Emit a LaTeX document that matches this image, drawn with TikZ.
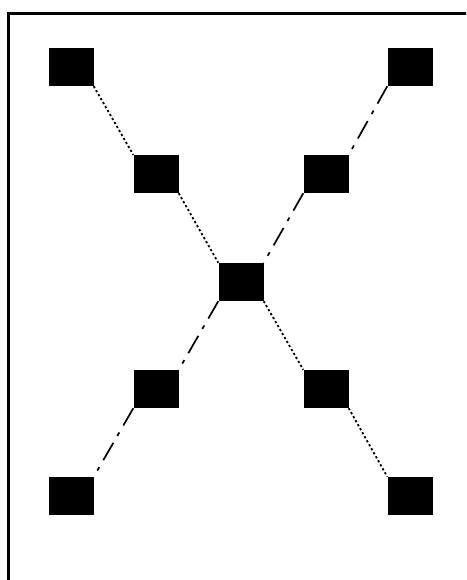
\documentclass[tikz,border=0pt]{standalone}
\usetikzlibrary{positioning}

\begin{document}
\begin{tikzpicture}[
    x=1pt, y=-1pt,
    blk/.style={draw=none, fill=black, minimum width=45pt, minimum height=38pt, inner sep=0pt},
    dotline/.style={line width=1.8pt, dash pattern=on 2.2pt off 2.4pt},
    dashdotline/.style={line width=1.7pt, dash pattern=on 20pt off 8pt on 4pt off 8pt}
  ]
    \useasboundingbox (0,0) rectangle (466,580);
    \clip (0,0) rectangle (466,580);
    \draw[line width=3pt] (8.5,13.5) rectangle (520,640);

    \node[blk] (tl) at (71,67) {};
    \node[blk] (tr) at (410,67) {};
    \node[blk] (tlin) at (156,174) {};
    \node[blk] (trin) at (326,174) {};
    \node[blk] (mid) at (241,282) {};
    \node[blk] (blin) at (156,389) {};
    \node[blk] (brin) at (326,389) {};
    \node[blk] (bl) at (71,496) {};
    \node[blk] (br) at (410,496) {};

    \draw[dotline] (tl.south east) -- (tlin.north west);
    \draw[dotline] (tlin.south east) -- (mid.north west);
    \draw[dotline] (mid.south east) -- (brin.north west);
    \draw[dotline] (brin.south east) -- (br.north west);
    \draw[dashdotline] (tr.south west) -- (trin.north east);
    \draw[dashdotline] (trin.south west) -- (mid.north east);
    \draw[dashdotline] (mid.south west) -- (blin.north east);
    \draw[dashdotline] (blin.south west) -- (bl.north east);
  \end{tikzpicture}
\end{document}
